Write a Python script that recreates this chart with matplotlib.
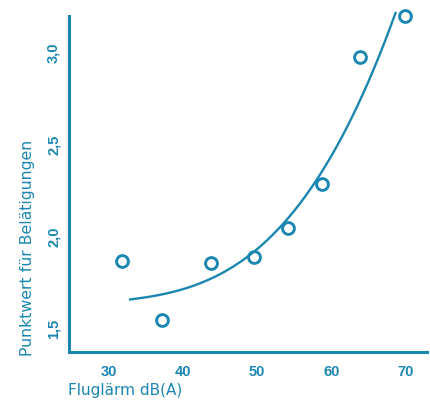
import numpy as np
import matplotlib
matplotlib.use("Agg")
import matplotlib.pyplot as plt

#Data
laerm = [31.8, 37.2, 43.8, 49.5, 54.1, 58.8, 63.8, 69.9]
punktwert = [1.87, 1.55, 1.86, 1.89, 2.05, 2.29, 2.98, 3.20]

#Points
trend_x = [32.84, 39.15, 43.65, 48.11, 50.41, 53.11, 58.51, 61.22, 63.92, 68.65]
trend_y = [1.661, 1.703, 1.784, 1.866, 1.947, 2.056, 2.348, 2.527, 2.745, 3.217]

xticks = [30, 40, 50, 60, 70]
yticks = [1.5, 2.0, 2.5, 3.0]
ytick_labels = ["1,5", "2,0", "2,5", "3,0"]

col = '#1b87b0'

fig = plt.figure(figsize=(4.30, 4.01), dpi=100)
ax = fig.add_axes([0.1605, 0.122, 0.8325, 0.838])

#Smooth cubic through the read trend points
coef = np.polyfit(trend_x, trend_y, 3)
x_curve = np.linspace(trend_x[0], trend_x[-1], 200)
y_curve = np.polyval(coef, x_curve)
ax.plot(x_curve, y_curve, color=col, lw=1.7, clip_on=False)
ax.plot(laerm, punktwert, 'o', mfc='none', mec=col, ms=8.5, mew=2.1, clip_on=False)

ax.set_xlim(24.6, 72.9)
ax.set_ylim(1.375, 3.20)

for s in ['top', 'right']:
    ax.spines[s].set_visible(False)
for s in ['left', 'bottom']:
    ax.spines[s].set_color(col)
    ax.spines[s].set_linewidth(2.2)

ax.set_xticks(xticks)
ax.set_xticklabels([str(t) for t in xticks], fontsize=10.5, fontweight='bold', color=col,
                   family='Liberation Sans')
ax.set_yticks(yticks)
ax.set_yticklabels(ytick_labels, fontsize=10.5, fontweight='bold', color=col, rotation=90,
                   va='center', family='Liberation Sans')
ax.tick_params(length=0, pad=9)
ax.tick_params(axis='y', pad=6)

fig.text(0.158, 0.015, 'Fluglärm dB(A)', fontsize=11, color=col,
         ha='left', va='baseline')
fig.text(0.063, 0.382, 'Punktwert für Belätigungen', fontsize=11.3, color=col,
         rotation=90, ha='center', va='center')

fig.savefig('out.png', dpi=100, facecolor='white')
